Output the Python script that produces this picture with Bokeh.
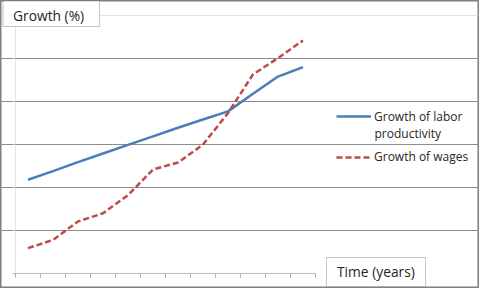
import numpy as np
from bokeh.plotting import figure
from bokeh.models import (Range1d, Grid, FixedTicker, BoxAnnotation, Label,
                          Legend, LegendItem, ColumnDataSource)
from bokeh.embed import file_html
from bokeh.resources import INLINE

# ---- data ----
years = list(range(1, 13))
productivity = [2.18, 2.38, 2.59, 2.79, 2.99, 3.19, 3.39, 3.58, 3.77, 4.18, 4.58, 4.80]
wages = [0.59, 0.78, 1.21, 1.40, 1.82, 2.42, 2.58, 3.00, 3.73, 4.63, 5.01, 5.42]
y_ticks = [0, 1, 2, 3, 4, 5, 6]
title_text = "Growth (%)"
xlabel_text = "Time (years)"
legend_labels = ["Growth of labor", "productivity", "Growth of wages"]

# ---- layout helpers (pixel -> data) ----
W, H = 479, 288
X0, DX = 27.5, 25.0   # pixel of first category centre, category width
Y0, DY = 273.0, 43.0  # pixel of value 0, pixels per unit


def px2x(px):
    return (px - X0) / DX


def py2y(py):
    return (Y0 - py) / DY


FONT = "Open Sans"
TXT = "#262626"

p = figure(width=W, height=H, output_backend="svg", toolbar_location=None,
           x_axis_location=None, y_axis_location=None,
           x_range=Range1d(px2x(0), px2x(W)), y_range=Range1d(py2y(H), py2y(0)),
           min_border=0, background_fill_color="white", border_fill_color="white")
p.outline_line_color = "#7f7f7f"
p.outline_line_width = 2
for g in p.grid:
    g.visible = False

xs = np.arange(len(years))
n = len(years)
lo, hi = -0.5, n - 0.5

# gridlines
p.add_layout(Grid(dimension=1, ticker=FixedTicker(ticks=y_ticks[1:-1]), bounds=(lo, hi),
                  grid_line_color="#8c8c8c", grid_line_width=1))
p.add_layout(Grid(dimension=1, ticker=FixedTicker(ticks=[y_ticks[-1]]), bounds=(lo, hi),
                  grid_line_color="#c4c4c4", grid_line_width=1, grid_line_dash="1 1"))

# axes lines and tick marks
p.segment(x0=[lo], y0=[y_ticks[0]], x1=[lo], y1=[y_ticks[-1]], line_color="#c8c8c8",
          line_width=1, line_dash="1 1")
p.segment(x0=[lo], y0=[y_ticks[0]], x1=[hi], y1=[y_ticks[0]], line_color="#bdbdbd", line_width=1)
bx = np.arange(n + 1) - 0.5
p.segment(x0=bx, y0=[0] * len(bx), x1=bx, y1=[-4 / DY] * len(bx), line_color="#b0b0b0", line_width=1)
p.segment(x0=[lo] * len(y_ticks), y0=y_ticks, x1=[lo - 3 / DX] * len(y_ticks), y1=y_ticks,
          line_color="#b0b0b0", line_width=1)

src = ColumnDataSource(dict(x=xs, prod=productivity, wage=wages))
r1 = p.line("x", "prod", source=src, line_color="#4a7ebb", line_width=2.5)
r2 = p.line("x", "wage", source=src, line_color="#be4b48", line_width=2.5, line_dash="6 3")

# title box
p.add_layout(BoxAnnotation(left=px2x(2.5), right=px2x(99), top=py2y(0.5), bottom=py2y(26),
                           fill_color="white", fill_alpha=1, line_color="#404040", line_width=1))
p.add_layout(Label(x=px2x(12.5), y=py2y(14.5), text=title_text, text_font=FONT,
                   text_font_size="13.8px", text_color=TXT, text_baseline="middle"))
# x label box
p.add_layout(BoxAnnotation(left=px2x(326), right=px2x(425), top=py2y(257), bottom=py2y(286),
                           fill_color="white", fill_alpha=1, line_color="#404040", line_width=1))
p.add_layout(Label(x=px2x(336.5), y=py2y(271), text=xlabel_text, text_font=FONT,
                   text_font_size="13.8px", text_color=TXT, text_baseline="middle"))

# legends
for r, lab, centre in [(r1, legend_labels[0], 116.5), (r2, legend_labels[2], 157)]:
    lg = Legend(items=[LegendItem(label=lab, renderers=[r])], location=(336, H - centre - 8),
                glyph_width=35, glyph_height=16, label_standoff=3, padding=0, margin=0,
                spacing=0, border_line_color=None, background_fill_alpha=0,
                label_text_font=FONT, label_text_font_size="12px", label_text_color=TXT,
                label_text_line_height=1.25)
    p.add_layout(lg)
p.add_layout(Label(x=px2x(374), y=py2y(132.5), text=legend_labels[1], text_font=FONT,
                   text_font_size="12px", text_color=TXT, text_baseline="middle"))

open("out.html", "w").write(file_html(p, INLINE))
